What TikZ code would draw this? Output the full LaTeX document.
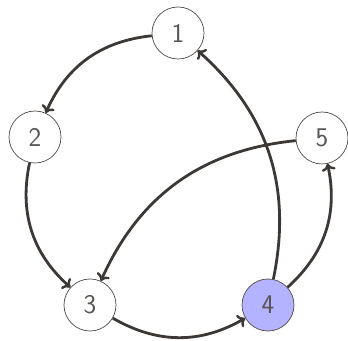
\documentclass[tikz,border=0pt]{standalone}
\usetikzlibrary{arrows.meta}
\definecolor{edgec}{HTML}{3C3835}
\definecolor{hl}{HTML}{B3B3FF}
\begin{document}
\begin{tikzpicture}[x=1pt,y=1pt,
  vert/.style={circle,draw=edgec!90,line width=0.7pt,fill=white,minimum size=52pt,inner sep=0pt,
    font=\sffamily\fontsize{27}{27}\selectfont,text=edgec!85},
  arc/.style={draw=edgec,line width=2.8pt,-{To[length=7pt,width=14pt,line width=2.4pt]},bend right=30}]
\useasboundingbox (0,0) rectangle (348,340);
\node[vert] (n1) at (178,307) {1};
\node[vert] (n2) at (35,203) {2};
\node[vert] (n3) at (90,35) {3};
\node[vert,fill=hl] (n4) at (268,35) {4};
\node[vert] (n5) at (322,202) {5};
\draw[arc] (n1) to (n2);
\draw[arc] (n2) to (n3);
\draw[arc] (n3) to (n4);
\draw[arc] (n4) to (n1);
\draw[arc] (n4) to (n5);
\draw[arc] (n5) to (n3);
\end{tikzpicture}
\end{document}
